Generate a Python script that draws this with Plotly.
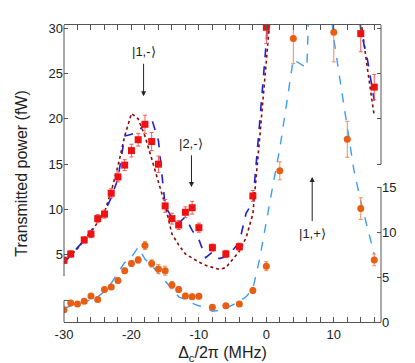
import plotly.graph_objects as go

# --- measured data -------------------------------------------------------
# red squares: transmitted power (fW), left axis
red_x = [-30, -29, -27, -26, -25, -24, -23, -22, -21, -20, -19, -18, -17, -16,
         -15, -14, -13, -12, -11, -10, -8, -6, -4, -2, 0, 14, 16]
red_y = [4.4, 5.1, 6.65, 7.3, 9.0, 9.5, 11.8, 13.6, 14.9, 16.5, 17.7, 19.4, 17.5,
         15.0, 10.4, 9.0, 8.3, 9.7, 10.2, 8.0, 5.8, 5.1, 5.9, 11.5, 30.1, 29.4, 23.5]
red_err = [0.35, 0.35, 0.35, 0.4, 0.45, 0.45, 0.5, 0.55, 0.6, 0.7, 0.7, 1.0, 1.0,
           0.9, 0.7, 0.6, 0.5, 0.6, 0.7, 0.5, 0.4, 0.4, 0.4, 0.6, 1.8, 2.0, 1.4]

# orange circles: right axis
orange_x = [-30, -29, -28, -27, -26, -25, -24, -23, -22, -21, -20, -19, -18, -17,
            -16, -15, -14, -13, -12, -11, -10, -8, -6, -4, -2, 0, 2, 4, 10, 12, 14, 16]
orange_y = [1.35, 2.1, 2.0, 2.3, 2.9, 2.5, 3.6, 3.9, 4.6, 5.7, 6.5, 6.9, 8.5, 6.5,
            5.9, 5.7, 4.1, 3.6, 2.9, 2.8, 2.85, 1.65, 1.8, 2.0, 3.5, 6.2, 16.8,
            31.5, 32.2, 20.3, 12.6, 6.9]
orange_err = [0.25, 0.25, 0.25, 0.25, 0.25, 0.25, 0.25, 0.25, 0.3, 0.3, 0.3, 0.35,
              0.45, 0.4, 0.5, 0.5, 0.4, 0.3, 0.3, 0.3, 0.3, 0.25, 0.25, 0.25, 0.3,
              0.5, 1.0, 2.8, 3.3, 2.0, 1.2, 0.65]

# --- model curves --------------------------------------------------------
model_x = [-30, -29, -28, -27, -26, -25, -24, -23, -22, -21, -20, -19, -18, -17,
           -16, -15, -14, -13, -12, -11, -10, -9, -8, -7, -6, -5, -4, -3, -2, -1,
           0, 1, 13, 14, 15, 16]
blue_y = [4.1, 5.0, 5.8, 6.6, 7.6, 8.7, 9.7, 11.3, 13.4, 18.1, 18.3, 18.6, 19.5,
          20.0, 17.6, 10.4, 9.1, 8.5, 9.2, 7.7, 6.7, 4.7, 5.3, 4.6, 4.8, 5.5, 6.4,
          9.6, 10.8, 19.5, 28.6, 40.0, 38.0, 29.8, 26.5, 22.0]
dotted_y = [4.2, 4.9, 5.7, 6.6, 7.5, 8.6, 9.7, 12.0, 14.8, 18.1, 20.6, 20.0, 18.1,
            15.6, 13.0, 10.5, 7.3, 6.1, 5.1, 4.6, 4.2, 3.85, 3.6, 3.4, 3.6, 4.5,
            5.4, 6.9, 9.5, 17.8, 26.0, 35.0, 40.0, 31.0, 25.5, 20.3]

lb_x = [-30, -29, -28, -27, -26, -25, -24, -23, -22, -21, -20, -19, -18, -17,
        -16, -15, -14, -13, -12, -11, -10, -9, -8, -7, -6, -5, -4, -3, -2, -1,
        0, 1, 2, 3, 4, 6, 7, 9, 10, 11, 12, 13, 14, 15, 16]
lb_y = [1.5, 1.8, 2.1, 2.2, 2.5, 2.8, 3.4, 4.3, 5.5, 6.6, 7.2, 8.3, 7.0, 6.3, 5.4,
        4.6, 3.7, 2.8, 2.5, 2.1, 1.8, 1.6, 1.2, 1.3, 1.5, 1.9, 2.3, 2.8, 3.7, 7.0,
        11.3, 15.3, 19.3, 24.5, 29.2, 28.2, 50.0, 38.0, 31.5, 26.5, 21.5, 16.8,
        13.4, 10.4, 7.5]

x_ticks = [-30, -20, -10, 0, 10]
x_tick_text = ["-30", "-20", "-10", "0", "10"]

RED = "#ee1111"
ORANGE = "#e85e14"
AX = "#555555"
FONT = "Liberation Sans, Arial, sans-serif"
Y_RANGE = [-2.4, 30.35]
Y2_RANGE = [0, 33]

fig = go.Figure()
fig.add_trace(go.Scatter(x=model_x, y=dotted_y, mode="lines", yaxis="y",
                         line=dict(color="#8b0a0a", width=1.6, dash="dot")))
fig.add_trace(go.Scatter(x=model_x, y=blue_y, mode="lines", yaxis="y",
                         line=dict(color="#1f1fd6", width=1.6, dash="dash")))
fig.add_trace(go.Scatter(x=lb_x, y=lb_y, mode="lines", yaxis="y2",
                         line=dict(color="#3b9cf5", width=1.4, dash="dash")))
fig.add_trace(go.Scatter(
    x=red_x, y=red_y, mode="markers", yaxis="y",
    marker=dict(symbol="square", size=7, color=RED),
    error_y=dict(type="data", array=red_err, color="#f45a5a", thickness=1, width=2),
))
fig.add_trace(go.Scatter(
    x=orange_x, y=orange_y, mode="markers", yaxis="y2",
    marker=dict(symbol="circle", size=7, color=ORANGE),
    error_y=dict(type="data", array=orange_err, color="#f08a55", thickness=1, width=2),
))
# invisible copy so the mirrored right-hand tick axis (y3) is active
fig.add_trace(go.Scatter(x=red_x, y=red_y, yaxis="y3", mode="markers",
                         marker=dict(opacity=0), hoverinfo="skip"))

# broken spines drawn by hand
spine = dict(color=AX, width=1)
shapes = [
    dict(type="line", xref="paper", yref="y", x0=0, x1=0, y0=2.64, y1=Y_RANGE[1], line=spine),
    dict(type="line", xref="paper", yref="y2", x0=0, x1=0, y0=0, y1=2.4, line=spine),
    dict(type="line", xref="paper", yref="y2", xsizemode="pixel", xanchor=0,
         x0=0, x1=5, y0=2.4, y1=2.4, line=spine),
    dict(type="line", xref="paper", yref="y", x0=1, x1=1, y0=15, y1=Y_RANGE[1], line=spine),
    dict(type="line", xref="paper", yref="y2", x0=1, x1=1, y0=0, y1=15, line=spine),
]

ann_font = dict(family=FONT, size=13, color="#222222")
arrow = dict(showarrow=True, arrowhead=2, arrowsize=1, arrowwidth=1,
             arrowcolor="#222222", xref="x", yref="y", axref="x", ayref="y",
             font=ann_font, startstandoff=3)
annotations = [
    dict(x=-18.2, y=22.5, ax=-18.2, ay=27.4, text="|1,-⟩", **arrow),
    dict(x=-11.1, y=12.5, ax=-11.1, ay=17.3, text="|2,-⟩", **arrow),
    dict(x=6.8, y=13.6, ax=6.8, ay=7.4, text="|1,+⟩", **arrow),
]

fig.update_layout(
    width=415, height=363,
    margin=dict(l=56, r=42, t=17, b=44),
    paper_bgcolor="white", plot_bgcolor="white",
    font=dict(family=FONT, size=13, color="#222222"),
    showlegend=False,
    xaxis=dict(range=[-30, 17], tickvals=x_ticks, ticktext=x_tick_text,
               ticks="inside", ticklen=5, tickcolor=AX,
               showline=True, linecolor=AX, linewidth=1, mirror="allticks",
               minor=dict(dtick=2, tick0=0, ticks="inside", ticklen=3, tickcolor=AX),
               showgrid=False, zeroline=False,
               title=dict(text="Δ<sub>c</sub>/2π (MHz)", standoff=6)),
    yaxis=dict(range=Y_RANGE, tickvals=[5, 10, 15, 20, 25, 30],
               ticks="inside", ticklen=4, tickcolor=AX,
               showline=False, showgrid=False, zeroline=False,
               title=dict(text="Transmitted power (fW)", standoff=16)),
    yaxis2=dict(range=Y2_RANGE, overlaying="y", side="right",
                tickvals=[0, 5, 10, 15], ticks="inside", ticklen=4, tickcolor=AX,
                showline=False, showgrid=False, zeroline=False),
    yaxis3=dict(range=Y_RANGE, overlaying="y", side="right",
                tickvals=[15, 20, 25, 30], showticklabels=False,
                ticks="inside", ticklen=4, tickcolor=AX,
                showline=False, showgrid=False, zeroline=False),
    shapes=shapes,
    annotations=annotations,
)

fig.write_html("out.html")
